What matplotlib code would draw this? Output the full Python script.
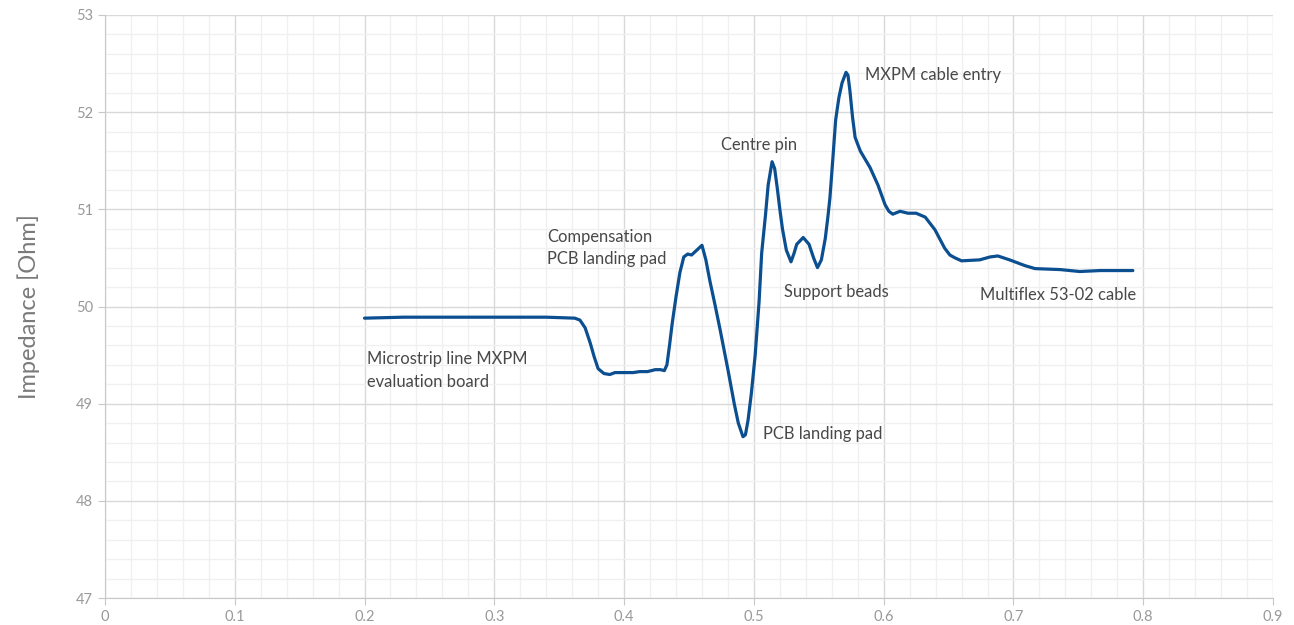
import matplotlib.pyplot as plt
from matplotlib.ticker import MultipleLocator

# distance (m) and impedance (Ohm)
dist = [0.200, 0.230, 0.260, 0.300, 0.340, 0.362, 0.366, 0.370, 0.374, 0.377,
        0.380, 0.3845, 0.389, 0.393, 0.400, 0.407, 0.412, 0.418, 0.424, 0.428,
        0.431, 0.433, 0.435, 0.437, 0.440, 0.443, 0.446, 0.449, 0.452, 0.456,
        0.460, 0.463, 0.466, 0.470, 0.474, 0.480, 0.485, 0.488, 0.4916, 0.4935,
        0.4955, 0.498, 0.501, 0.504, 0.506, 0.509, 0.511, 0.514, 0.516, 0.518,
        0.520, 0.522, 0.525, 0.5286, 0.531, 0.533, 0.538, 0.5425, 0.546, 0.549,
        0.552, 0.555, 0.557, 0.5586, 0.561, 0.563, 0.5655, 0.5679, 0.571, 0.5725,
        0.574, 0.576, 0.578, 0.582, 0.5895, 0.5956, 0.601, 0.604, 0.607, 0.6126,
        0.6187, 0.625, 0.632, 0.6395, 0.647, 0.651, 0.655, 0.660, 0.674, 0.682,
        0.688, 0.697, 0.709, 0.7166, 0.736, 0.751, 0.767, 0.792]
imped = [49.88, 49.89, 49.89, 49.89, 49.89, 49.88, 49.86, 49.78, 49.62, 49.48,
         49.36, 49.31, 49.30, 49.32, 49.32, 49.32, 49.33, 49.33, 49.35, 49.35,
         49.34, 49.40, 49.60, 49.82, 50.10, 50.35, 50.51, 50.54, 50.53, 50.58,
         50.63, 50.48, 50.27, 50.02, 49.76, 49.35, 48.99, 48.80, 48.66, 48.68,
         48.83, 49.10, 49.50, 50.05, 50.55, 50.95, 51.25, 51.49, 51.42, 51.22,
         51.00, 50.80, 50.58, 50.46, 50.55, 50.64, 50.71, 50.64, 50.50, 50.40,
         50.48, 50.70, 50.92, 51.12, 51.55, 51.92, 52.15, 52.30, 52.41, 52.38,
         52.22, 51.95, 51.74, 51.60, 51.43, 51.25, 51.05, 50.98, 50.95, 50.98,
         50.96, 50.96, 50.92, 50.79, 50.60, 50.53, 50.50, 50.47, 50.48, 50.51,
         50.52, 50.48, 50.42, 50.39, 50.38, 50.36, 50.37, 50.37]

labels = ["Microstrip line MXPM\nevaluation board", "Compensation\nPCB landing pad",
          "Centre pin", "MXPM cable entry", "Support beads", "PCB landing pad",
          "Multiflex 53-02 cable"]
label_x = [0.2018, 0.3406, 0.4747, 0.5856, 0.523, 0.507, 0.674]
label_y = [49.34, 50.60, 51.66, 52.38, 50.15, 48.69, 50.12]

plt.rcParams['font.family'] = ['Lato', 'DejaVu Sans']

fig = plt.figure(figsize=(12.94, 6.25), dpi=100)
ax = fig.add_axes([0.0811, 0.0432, 0.9027, 0.9328])

ax.plot(dist, imped, color='#0b4f91', lw=2.3, solid_joinstyle='round',
        solid_capstyle='round', zorder=3)

for t, x, y in zip(labels, label_x, label_y):
    ax.text(x, y, t, ha='left', va='center', fontsize=11.9, color='#484848',
            linespacing=1.5)

ax.set_xlim(0, 0.9)
ax.set_ylim(47, 53)
ax.xaxis.set_major_locator(MultipleLocator(0.1))
ax.xaxis.set_minor_locator(MultipleLocator(0.02))
ax.yaxis.set_major_locator(MultipleLocator(1))
ax.yaxis.set_minor_locator(MultipleLocator(0.2))
ax.set_xticklabels([f"{v:g}" for v in ax.get_xticks()])

ax.grid(which='major', color='#d9d9d9', lw=1.0)
ax.grid(which='minor', color='#f0f0f0', lw=1.0)
ax.set_axisbelow(True)

for s in ['top', 'right']:
    ax.spines[s].set_visible(False)
for s in ['left', 'bottom']:
    ax.spines[s].set_color('#c8c8c8')
ax.tick_params(which='major', length=5, color='#c8c8c8', labelcolor='#999999',
               labelsize=10.5)
ax.tick_params(which='minor', length=0)

ax.set_ylabel("Impedance [Ohm]", fontsize=17, color='#7a7a7a', labelpad=26)

fig.savefig("out.png", dpi=100)
